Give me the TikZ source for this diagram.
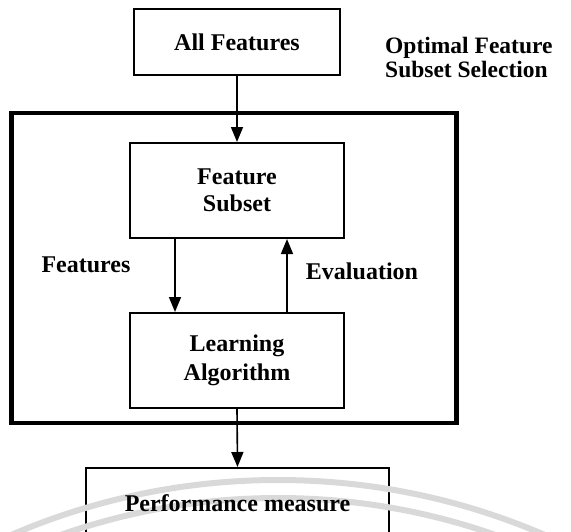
\documentclass[tikz,border=0pt]{standalone}
\usepackage{fontspec}
\setmainfont{Liberation Serif}
\usetikzlibrary{arrows.meta,positioning}
\begin{document}
\begin{tikzpicture}[x=1pt,y=-1pt,
  box/.style={draw=black,line width=2pt,inner sep=0pt,align=center,
    font=\fontsize{24}{28}\selectfont\bfseries},
  frame/.style={draw=black,line width=4.5pt},
  lbl/.style={font=\fontsize{24}{28}\selectfont\bfseries,inner sep=0pt},
  flow/.style={draw=black,line width=1.6pt,-{Triangle[width=12pt,length=15pt]}},
  watermark/.style={draw=black!15,line width=6pt}
]
\useasboundingbox (0,0) rectangle (571,531);
% outer frame of the selection loop
\node[frame,minimum width=445pt,minimum height=310pt,inner sep=0pt] (loop) at (234,268) {};
% boxes
\node[box,minimum width=206pt,minimum height=66pt] (all) at (237,42) {All Features};
\node[box,minimum width=214pt,minimum height=95pt] (subset) at (237,190.5) {Feature\\[-1pt]Subset};
\node[box,minimum width=214pt,minimum height=95pt] (learn) at (237,360.5) {Learning\\[1pt]Algorithm};
\node[box,minimum width=303pt,minimum height=80pt] (perf) at (237.5,508) {};
% faint arcs over the lowest box
\begin{scope}
  \clip (0,440) rectangle (571,531);
  \draw[watermark] (278,1153) circle[radius=673];
  \draw[watermark] (278,1153) circle[radius=655];
\end{scope}
\node[lbl,anchor=center] (perftxt) at (237.5,503) {Performance measure};
% labels
\node[lbl,align=left,anchor=west,font=\fontsize{23.5}{24}\selectfont\bfseries] (title) at (385,57) {Optimal Feature\\Subset Selection};
\node[lbl] (featlbl) at (86,265) {Features};
\node[lbl] (evallbl) at (362,271) {Evaluation};
% connectors
\coordinate (dtop) at ([xshift=-62pt]subset.south);
\coordinate (dbot) at ([xshift=-62pt]learn.north);
\coordinate (utop) at ([xshift=50pt]subset.south);
\coordinate (ubot) at ([xshift=50pt]learn.north);
\draw[flow] (all.south) -- (subset.north);
\draw[flow] (dtop) -- (dbot);
\draw[flow] (ubot) -- (utop);
\draw[flow] (learn.south) -- (perf.north);
\end{tikzpicture}
\end{document}
